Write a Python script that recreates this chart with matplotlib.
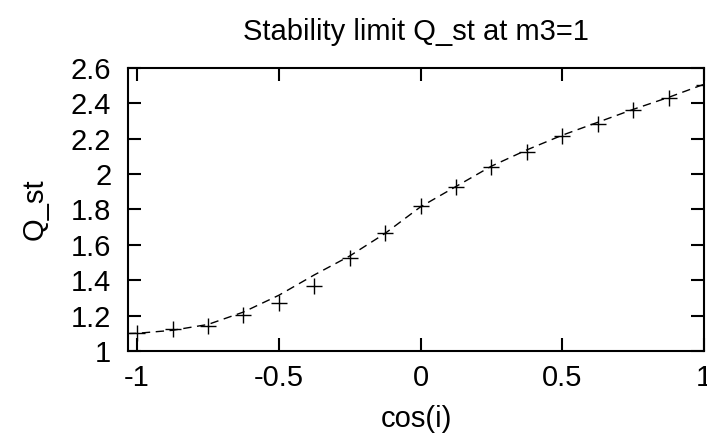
import matplotlib
matplotlib.use('Agg')
import matplotlib.pyplot as plt
from matplotlib.ticker import FuncFormatter

# measured points (cos i, Q_st)
cos_i = [-1.0, -0.875, -0.75, -0.625, -0.5, -0.375, -0.25, -0.125, 0.0,
         0.125, 0.25, 0.375, 0.5, 0.625, 0.75, 0.875, 1.0]
q_st = [1.100, 1.123, 1.140, 1.203, 1.270, 1.367, 1.527, 1.668, 1.819,
        1.928, 2.038, 2.126, 2.215, 2.286, 2.362, 2.428, 2.503]

# fitted curve
fit_x = [-1.032, -1.0, -0.875, -0.75, -0.625, -0.5, -0.375, -0.25, -0.125, 0.0,
         0.125, 0.25, 0.375, 0.5, 0.625, 0.75, 0.875, 1.0]
fit_y = [1.099, 1.100, 1.117, 1.150, 1.220, 1.315, 1.430, 1.537, 1.665, 1.815,
         1.930, 2.045, 2.137, 2.220, 2.293, 2.366, 2.434, 2.508]

x_ticks = [-1, -0.5, 0, 0.5, 1]
y_ticks = [1.0, 1.2, 1.4, 1.6, 1.8, 2.0, 2.2, 2.4, 2.6]

plt.rcParams['font.family'] = ['Liberation Sans', 'DejaVu Sans']
plt.rcParams['font.size'] = 21

fig = plt.figure(figsize=(7.07, 4.44), dpi=100)
ax = fig.add_axes([128 / 707, 93 / 444, 576 / 707, 283 / 444])

ax.plot(fit_x, fit_y, color='black', linewidth=1.0, linestyle=(0, (6, 4)))
ax.plot(cos_i, q_st, linestyle='none', marker='+', markersize=11,
        markeredgewidth=1.0, color='black')

ax.set_xlim(-1.032, 1.0)
ax.set_ylim(1.0, 2.6)
ax.set_xticks(x_ticks)
ax.set_yticks(y_ticks)
fmt = FuncFormatter(lambda v, pos: '%g' % v)
ax.xaxis.set_major_formatter(fmt)
ax.yaxis.set_major_formatter(fmt)
ax.tick_params(direction='in', length=9.5, width=1.5, top=True, right=True,
               labelsize=21)
ax.tick_params(axis='x', pad=9)
ax.tick_params(axis='y', pad=12)
for s in ax.spines.values():
    s.set_linewidth(1.5)

ax.set_title('Stability limit Q_st at m3=1', fontsize=21, pad=20)
ax.set_xlabel('cos(i)', fontsize=21, labelpad=10)
ax.set_ylabel('Q_st', fontsize=21, labelpad=16)

fig.savefig('out.png', dpi=100)
